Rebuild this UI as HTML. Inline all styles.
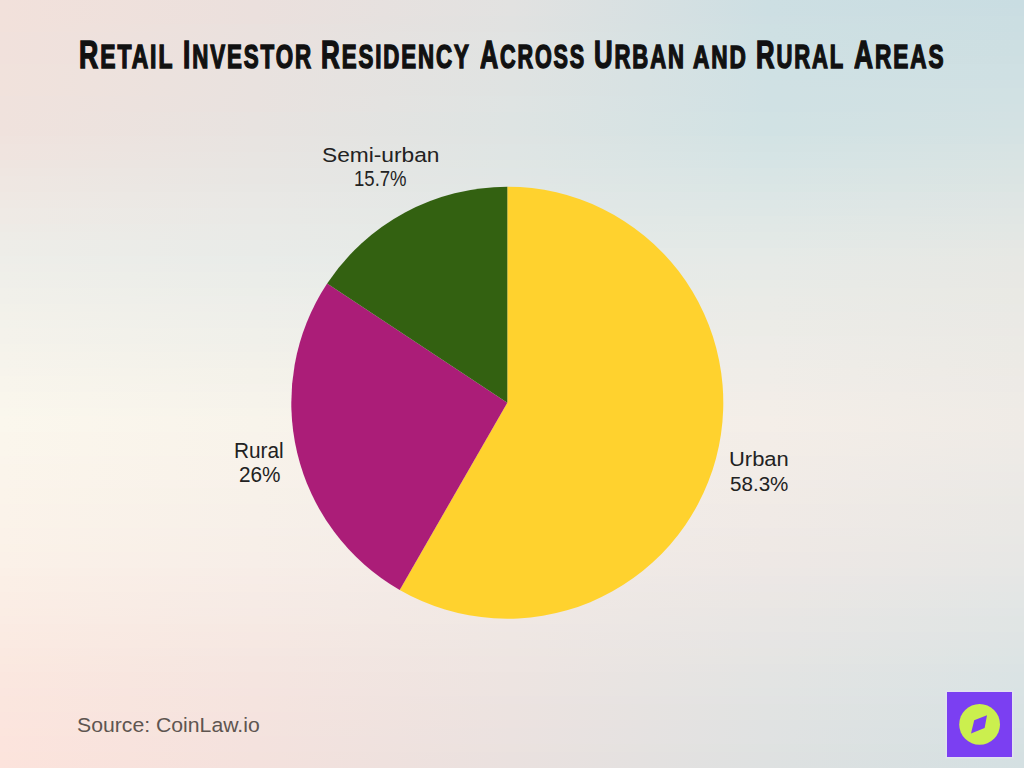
<!DOCTYPE html>
<html><head><meta charset="utf-8">
<style>
html,body{margin:0;padding:0;}
body{width:1024px;height:768px;overflow:hidden;position:relative;font-family:"Liberation Sans",sans-serif;background:#ECE4E0;}
#bg{position:absolute;left:0;top:0;width:1024px;height:768px;}
</style></head>
<body>
<svg id="bg" width="1024" height="768" viewBox="0 0 1024 768">
<defs>
<linearGradient id="b0" x1="0" x2="1" y1="0" y2="0"><stop offset="0.000" stop-color="#f2e1db"/><stop offset="0.250" stop-color="#ebe0dd"/><stop offset="0.500" stop-color="#e2e2e1"/><stop offset="0.750" stop-color="#cddfe3"/><stop offset="1.000" stop-color="#c9dde2"/></linearGradient>
<linearGradient id="b1" x1="0" x2="1" y1="0" y2="0"><stop offset="0.000" stop-color="#f2e1db"/><stop offset="0.250" stop-color="#ebe0dd"/><stop offset="0.500" stop-color="#e2e2e1"/><stop offset="0.750" stop-color="#cddfe3"/><stop offset="1.000" stop-color="#cadde2"/></linearGradient>
<linearGradient id="b2" x1="0" x2="1" y1="0" y2="0"><stop offset="0.000" stop-color="#f2e1db"/><stop offset="0.250" stop-color="#ebe0dd"/><stop offset="0.500" stop-color="#e1e2e1"/><stop offset="0.750" stop-color="#cedfe3"/><stop offset="1.000" stop-color="#cbdee2"/></linearGradient>
<linearGradient id="b3" x1="0" x2="1" y1="0" y2="0"><stop offset="0.000" stop-color="#f2e1db"/><stop offset="0.250" stop-color="#eae1de"/><stop offset="0.500" stop-color="#e1e2e1"/><stop offset="0.750" stop-color="#cee0e3"/><stop offset="1.000" stop-color="#cbdee2"/></linearGradient>
<linearGradient id="b4" x1="0" x2="1" y1="0" y2="0"><stop offset="0.000" stop-color="#f1e1dc"/><stop offset="0.250" stop-color="#eae1de"/><stop offset="0.500" stop-color="#e1e3e2"/><stop offset="0.750" stop-color="#cee0e3"/><stop offset="1.000" stop-color="#ccdee2"/></linearGradient>
<linearGradient id="b5" x1="0" x2="1" y1="0" y2="0"><stop offset="0.000" stop-color="#f1e1dc"/><stop offset="0.250" stop-color="#eae1de"/><stop offset="0.500" stop-color="#e1e3e2"/><stop offset="0.750" stop-color="#cee0e3"/><stop offset="1.000" stop-color="#cddfe2"/></linearGradient>
<linearGradient id="b6" x1="0" x2="1" y1="0" y2="0"><stop offset="0.000" stop-color="#f1e1dc"/><stop offset="0.250" stop-color="#eae1de"/><stop offset="0.500" stop-color="#e0e3e2"/><stop offset="0.750" stop-color="#cfe0e3"/><stop offset="1.000" stop-color="#cddfe2"/></linearGradient>
<linearGradient id="b7" x1="0" x2="1" y1="0" y2="0"><stop offset="0.000" stop-color="#f1e1dc"/><stop offset="0.250" stop-color="#eae1de"/><stop offset="0.500" stop-color="#e0e3e2"/><stop offset="0.750" stop-color="#cfe0e3"/><stop offset="1.000" stop-color="#cedfe2"/></linearGradient>
<linearGradient id="b8" x1="0" x2="1" y1="0" y2="0"><stop offset="0.000" stop-color="#f1e2dc"/><stop offset="0.250" stop-color="#e9e2df"/><stop offset="0.500" stop-color="#e0e3e2"/><stop offset="0.750" stop-color="#cfe1e4"/><stop offset="1.000" stop-color="#cfe0e3"/></linearGradient>
<linearGradient id="b9" x1="0" x2="1" y1="0" y2="0"><stop offset="0.000" stop-color="#f1e2dc"/><stop offset="0.250" stop-color="#e9e2df"/><stop offset="0.500" stop-color="#e0e3e2"/><stop offset="0.750" stop-color="#cfe1e4"/><stop offset="1.000" stop-color="#cfe0e3"/></linearGradient>
<linearGradient id="b10" x1="0" x2="1" y1="0" y2="0"><stop offset="0.000" stop-color="#f1e2dc"/><stop offset="0.250" stop-color="#e9e2df"/><stop offset="0.500" stop-color="#dfe3e2"/><stop offset="0.750" stop-color="#d0e1e4"/><stop offset="1.000" stop-color="#d0e0e3"/></linearGradient>
<linearGradient id="b11" x1="0" x2="1" y1="0" y2="0"><stop offset="0.000" stop-color="#f1e2dc"/><stop offset="0.250" stop-color="#e9e2df"/><stop offset="0.500" stop-color="#dfe3e2"/><stop offset="0.750" stop-color="#d0e1e4"/><stop offset="1.000" stop-color="#d1e1e3"/></linearGradient>
<linearGradient id="b12" x1="0" x2="1" y1="0" y2="0"><stop offset="0.000" stop-color="#f0e2dd"/><stop offset="0.250" stop-color="#e9e2df"/><stop offset="0.500" stop-color="#dfe4e3"/><stop offset="0.750" stop-color="#d0e1e4"/><stop offset="1.000" stop-color="#d1e1e3"/></linearGradient>
<linearGradient id="b13" x1="0" x2="1" y1="0" y2="0"><stop offset="0.000" stop-color="#f0e2dd"/><stop offset="0.250" stop-color="#e9e2df"/><stop offset="0.500" stop-color="#dfe4e3"/><stop offset="0.750" stop-color="#d0e1e4"/><stop offset="1.000" stop-color="#d2e1e3"/></linearGradient>
<linearGradient id="b14" x1="0" x2="1" y1="0" y2="0"><stop offset="0.000" stop-color="#f0e2dd"/><stop offset="0.250" stop-color="#e8e3e0"/><stop offset="0.500" stop-color="#dee4e3"/><stop offset="0.750" stop-color="#d1e2e4"/><stop offset="1.000" stop-color="#d3e1e3"/></linearGradient>
<linearGradient id="b15" x1="0" x2="1" y1="0" y2="0"><stop offset="0.000" stop-color="#f0e2dd"/><stop offset="0.250" stop-color="#e8e3e0"/><stop offset="0.500" stop-color="#dee4e3"/><stop offset="0.750" stop-color="#d1e2e4"/><stop offset="1.000" stop-color="#d3e2e3"/></linearGradient>
<linearGradient id="b16" x1="0" x2="1" y1="0" y2="0"><stop offset="0.000" stop-color="#f0e2dd"/><stop offset="0.250" stop-color="#e8e3e0"/><stop offset="0.500" stop-color="#dee4e3"/><stop offset="0.750" stop-color="#d1e2e4"/><stop offset="1.000" stop-color="#d4e2e3"/></linearGradient>
<linearGradient id="b17" x1="0" x2="1" y1="0" y2="0"><stop offset="0.000" stop-color="#f0e3de"/><stop offset="0.250" stop-color="#e8e4e1"/><stop offset="0.500" stop-color="#dfe4e3"/><stop offset="0.750" stop-color="#d3e3e4"/><stop offset="1.000" stop-color="#d5e2e3"/></linearGradient>
<linearGradient id="b18" x1="0" x2="1" y1="0" y2="0"><stop offset="0.000" stop-color="#f0e4df"/><stop offset="0.250" stop-color="#e8e4e1"/><stop offset="0.500" stop-color="#dfe5e4"/><stop offset="0.750" stop-color="#d4e3e4"/><stop offset="1.000" stop-color="#d7e3e3"/></linearGradient>
<linearGradient id="b19" x1="0" x2="1" y1="0" y2="0"><stop offset="0.000" stop-color="#f0e4df"/><stop offset="0.250" stop-color="#e8e5e2"/><stop offset="0.500" stop-color="#dfe5e4"/><stop offset="0.750" stop-color="#d5e4e5"/><stop offset="1.000" stop-color="#d8e3e3"/></linearGradient>
<linearGradient id="b20" x1="0" x2="1" y1="0" y2="0"><stop offset="0.000" stop-color="#efe5e0"/><stop offset="0.250" stop-color="#e8e5e2"/><stop offset="0.500" stop-color="#e0e6e4"/><stop offset="0.750" stop-color="#d6e4e5"/><stop offset="1.000" stop-color="#d9e4e3"/></linearGradient>
<linearGradient id="b21" x1="0" x2="1" y1="0" y2="0"><stop offset="0.000" stop-color="#efe6e1"/><stop offset="0.250" stop-color="#e8e6e3"/><stop offset="0.500" stop-color="#e0e6e5"/><stop offset="0.750" stop-color="#d8e5e5"/><stop offset="1.000" stop-color="#dae4e3"/></linearGradient>
<linearGradient id="b22" x1="0" x2="1" y1="0" y2="0"><stop offset="0.000" stop-color="#efe7e2"/><stop offset="0.250" stop-color="#e8e6e3"/><stop offset="0.500" stop-color="#e1e6e5"/><stop offset="0.750" stop-color="#d9e5e5"/><stop offset="1.000" stop-color="#dbe4e3"/></linearGradient>
<linearGradient id="b23" x1="0" x2="1" y1="0" y2="0"><stop offset="0.000" stop-color="#efe7e2"/><stop offset="0.250" stop-color="#e8e7e4"/><stop offset="0.500" stop-color="#e1e7e5"/><stop offset="0.750" stop-color="#dae6e5"/><stop offset="1.000" stop-color="#dce5e3"/></linearGradient>
<linearGradient id="b24" x1="0" x2="1" y1="0" y2="0"><stop offset="0.000" stop-color="#efe8e3"/><stop offset="0.250" stop-color="#e9e8e5"/><stop offset="0.500" stop-color="#e2e7e6"/><stop offset="0.750" stop-color="#dce6e6"/><stop offset="1.000" stop-color="#dee5e4"/></linearGradient>
<linearGradient id="b25" x1="0" x2="1" y1="0" y2="0"><stop offset="0.000" stop-color="#efe9e4"/><stop offset="0.250" stop-color="#e9e8e5"/><stop offset="0.500" stop-color="#e2e7e6"/><stop offset="0.750" stop-color="#dde7e6"/><stop offset="1.000" stop-color="#dfe5e4"/></linearGradient>
<linearGradient id="b26" x1="0" x2="1" y1="0" y2="0"><stop offset="0.000" stop-color="#efeae5"/><stop offset="0.250" stop-color="#e9e9e6"/><stop offset="0.500" stop-color="#e2e8e6"/><stop offset="0.750" stop-color="#dee7e6"/><stop offset="1.000" stop-color="#e0e6e4"/></linearGradient>
<linearGradient id="b27" x1="0" x2="1" y1="0" y2="0"><stop offset="0.000" stop-color="#efeae5"/><stop offset="0.250" stop-color="#e9e9e6"/><stop offset="0.500" stop-color="#e3e8e6"/><stop offset="0.750" stop-color="#e0e8e6"/><stop offset="1.000" stop-color="#e1e6e4"/></linearGradient>
<linearGradient id="b28" x1="0" x2="1" y1="0" y2="0"><stop offset="0.000" stop-color="#eeebe6"/><stop offset="0.250" stop-color="#e9eae7"/><stop offset="0.500" stop-color="#e3e9e7"/><stop offset="0.750" stop-color="#e1e8e6"/><stop offset="1.000" stop-color="#e2e7e4"/></linearGradient>
<linearGradient id="b29" x1="0" x2="1" y1="0" y2="0"><stop offset="0.000" stop-color="#eeece7"/><stop offset="0.250" stop-color="#e9eae7"/><stop offset="0.500" stop-color="#e4e9e7"/><stop offset="0.750" stop-color="#e2e9e6"/><stop offset="1.000" stop-color="#e3e7e4"/></linearGradient>
<linearGradient id="b30" x1="0" x2="1" y1="0" y2="0"><stop offset="0.000" stop-color="#eeede8"/><stop offset="0.250" stop-color="#e9ebe8"/><stop offset="0.500" stop-color="#e4e9e7"/><stop offset="0.750" stop-color="#e3e9e7"/><stop offset="1.000" stop-color="#e5e7e4"/></linearGradient>
<linearGradient id="b31" x1="0" x2="1" y1="0" y2="0"><stop offset="0.000" stop-color="#eeede8"/><stop offset="0.250" stop-color="#e9ebe8"/><stop offset="0.500" stop-color="#e5eae8"/><stop offset="0.750" stop-color="#e5eae7"/><stop offset="1.000" stop-color="#e6e8e4"/></linearGradient>
<linearGradient id="b32" x1="0" x2="1" y1="0" y2="0"><stop offset="0.000" stop-color="#eeeee9"/><stop offset="0.250" stop-color="#e9ece9"/><stop offset="0.500" stop-color="#e5eae8"/><stop offset="0.750" stop-color="#e6eae7"/><stop offset="1.000" stop-color="#e7e8e4"/></linearGradient>
<linearGradient id="b33" x1="0" x2="1" y1="0" y2="0"><stop offset="0.000" stop-color="#efeee9"/><stop offset="0.250" stop-color="#eaece9"/><stop offset="0.500" stop-color="#e6eae8"/><stop offset="0.750" stop-color="#e7eae7"/><stop offset="1.000" stop-color="#e7e8e4"/></linearGradient>
<linearGradient id="b34" x1="0" x2="1" y1="0" y2="0"><stop offset="0.000" stop-color="#efefe9"/><stop offset="0.250" stop-color="#ebede9"/><stop offset="0.500" stop-color="#e6ebe8"/><stop offset="0.750" stop-color="#e7eae7"/><stop offset="1.000" stop-color="#e8e8e4"/></linearGradient>
<linearGradient id="b35" x1="0" x2="1" y1="0" y2="0"><stop offset="0.000" stop-color="#f0efea"/><stop offset="0.250" stop-color="#ebede9"/><stop offset="0.500" stop-color="#e7ebe8"/><stop offset="0.750" stop-color="#e8ebe7"/><stop offset="1.000" stop-color="#e8e8e4"/></linearGradient>
<linearGradient id="b36" x1="0" x2="1" y1="0" y2="0"><stop offset="0.000" stop-color="#f1f0ea"/><stop offset="0.250" stop-color="#eceee9"/><stop offset="0.500" stop-color="#e8ebe8"/><stop offset="0.750" stop-color="#e9ebe7"/><stop offset="1.000" stop-color="#e9e9e4"/></linearGradient>
<linearGradient id="b37" x1="0" x2="1" y1="0" y2="0"><stop offset="0.000" stop-color="#f1f0ea"/><stop offset="0.250" stop-color="#edeeea"/><stop offset="0.500" stop-color="#e9ece8"/><stop offset="0.750" stop-color="#eaebe7"/><stop offset="1.000" stop-color="#e9e9e4"/></linearGradient>
<linearGradient id="b38" x1="0" x2="1" y1="0" y2="0"><stop offset="0.000" stop-color="#f2f1ea"/><stop offset="0.250" stop-color="#eeeeea"/><stop offset="0.500" stop-color="#eaece9"/><stop offset="0.750" stop-color="#eaebe7"/><stop offset="1.000" stop-color="#e9e9e5"/></linearGradient>
<linearGradient id="b39" x1="0" x2="1" y1="0" y2="0"><stop offset="0.000" stop-color="#f3f1ea"/><stop offset="0.250" stop-color="#eeefea"/><stop offset="0.500" stop-color="#eaece9"/><stop offset="0.750" stop-color="#ebebe7"/><stop offset="1.000" stop-color="#eae9e5"/></linearGradient>
<linearGradient id="b40" x1="0" x2="1" y1="0" y2="0"><stop offset="0.000" stop-color="#f3f2eb"/><stop offset="0.250" stop-color="#efefea"/><stop offset="0.500" stop-color="#ebece9"/><stop offset="0.750" stop-color="#ecece7"/><stop offset="1.000" stop-color="#eae9e5"/></linearGradient>
<linearGradient id="b41" x1="0" x2="1" y1="0" y2="0"><stop offset="0.000" stop-color="#f4f2eb"/><stop offset="0.250" stop-color="#f0f0ea"/><stop offset="0.500" stop-color="#ecede9"/><stop offset="0.750" stop-color="#ecece7"/><stop offset="1.000" stop-color="#ebe9e5"/></linearGradient>
<linearGradient id="b42" x1="0" x2="1" y1="0" y2="0"><stop offset="0.000" stop-color="#f4f2eb"/><stop offset="0.250" stop-color="#f0f0ea"/><stop offset="0.500" stop-color="#ecede9"/><stop offset="0.750" stop-color="#edece8"/><stop offset="1.000" stop-color="#ebeae5"/></linearGradient>
<linearGradient id="b43" x1="0" x2="1" y1="0" y2="0"><stop offset="0.000" stop-color="#f5f3eb"/><stop offset="0.250" stop-color="#f1f0ea"/><stop offset="0.500" stop-color="#edede9"/><stop offset="0.750" stop-color="#eeece8"/><stop offset="1.000" stop-color="#ebeae5"/></linearGradient>
<linearGradient id="b44" x1="0" x2="1" y1="0" y2="0"><stop offset="0.000" stop-color="#f6f3eb"/><stop offset="0.250" stop-color="#f2f1ea"/><stop offset="0.500" stop-color="#eeeee9"/><stop offset="0.750" stop-color="#eeece8"/><stop offset="1.000" stop-color="#eceae5"/></linearGradient>
<linearGradient id="b45" x1="0" x2="1" y1="0" y2="0"><stop offset="0.000" stop-color="#f6f4ec"/><stop offset="0.250" stop-color="#f3f1ea"/><stop offset="0.500" stop-color="#efeee9"/><stop offset="0.750" stop-color="#efede8"/><stop offset="1.000" stop-color="#eceae5"/></linearGradient>
<linearGradient id="b46" x1="0" x2="1" y1="0" y2="0"><stop offset="0.000" stop-color="#f7f4ec"/><stop offset="0.250" stop-color="#f4f2ea"/><stop offset="0.500" stop-color="#f0eee9"/><stop offset="0.750" stop-color="#f0ede8"/><stop offset="1.000" stop-color="#edeae5"/></linearGradient>
<linearGradient id="b47" x1="0" x2="1" y1="0" y2="0"><stop offset="0.000" stop-color="#f8f5ec"/><stop offset="0.250" stop-color="#f4f2ea"/><stop offset="0.500" stop-color="#f0eeea"/><stop offset="0.750" stop-color="#f0ede8"/><stop offset="1.000" stop-color="#edeae6"/></linearGradient>
<linearGradient id="b48" x1="0" x2="1" y1="0" y2="0"><stop offset="0.000" stop-color="#f8f5ec"/><stop offset="0.250" stop-color="#f5f2eb"/><stop offset="0.500" stop-color="#f1efea"/><stop offset="0.750" stop-color="#f1ede8"/><stop offset="1.000" stop-color="#edeae6"/></linearGradient>
<linearGradient id="b49" x1="0" x2="1" y1="0" y2="0"><stop offset="0.000" stop-color="#f9f6ec"/><stop offset="0.250" stop-color="#f6f3eb"/><stop offset="0.500" stop-color="#f2efea"/><stop offset="0.750" stop-color="#f2ede8"/><stop offset="1.000" stop-color="#eeebe6"/></linearGradient>
<linearGradient id="b50" x1="0" x2="1" y1="0" y2="0"><stop offset="0.000" stop-color="#faf6ed"/><stop offset="0.250" stop-color="#f6f3eb"/><stop offset="0.500" stop-color="#f2efea"/><stop offset="0.750" stop-color="#f3eee8"/><stop offset="1.000" stop-color="#eeebe6"/></linearGradient>
<linearGradient id="b51" x1="0" x2="1" y1="0" y2="0"><stop offset="0.000" stop-color="#faf7ed"/><stop offset="0.250" stop-color="#f7f4eb"/><stop offset="0.500" stop-color="#f3f0ea"/><stop offset="0.750" stop-color="#f3eee8"/><stop offset="1.000" stop-color="#efebe6"/></linearGradient>
<linearGradient id="b52" x1="0" x2="1" y1="0" y2="0"><stop offset="0.000" stop-color="#fbf7ed"/><stop offset="0.250" stop-color="#f8f4eb"/><stop offset="0.500" stop-color="#f4f0ea"/><stop offset="0.750" stop-color="#f4eee8"/><stop offset="1.000" stop-color="#efebe6"/></linearGradient>
<linearGradient id="b53" x1="0" x2="1" y1="0" y2="0"><stop offset="0.000" stop-color="#fbf7ed"/><stop offset="0.250" stop-color="#f8f4eb"/><stop offset="0.500" stop-color="#f4f0ea"/><stop offset="0.750" stop-color="#f4eee8"/><stop offset="1.000" stop-color="#efebe6"/></linearGradient>
<linearGradient id="b54" x1="0" x2="1" y1="0" y2="0"><stop offset="0.000" stop-color="#fbf6ec"/><stop offset="0.250" stop-color="#f8f3eb"/><stop offset="0.500" stop-color="#f4efea"/><stop offset="0.750" stop-color="#f3ede8"/><stop offset="1.000" stop-color="#eeebe6"/></linearGradient>
<linearGradient id="b55" x1="0" x2="1" y1="0" y2="0"><stop offset="0.000" stop-color="#fbf6ec"/><stop offset="0.250" stop-color="#f8f3ea"/><stop offset="0.500" stop-color="#f4efe9"/><stop offset="0.750" stop-color="#f3ede7"/><stop offset="1.000" stop-color="#eeeae6"/></linearGradient>
<linearGradient id="b56" x1="0" x2="1" y1="0" y2="0"><stop offset="0.000" stop-color="#fbf6ec"/><stop offset="0.250" stop-color="#f8f3ea"/><stop offset="0.500" stop-color="#f4efe9"/><stop offset="0.750" stop-color="#f3ede7"/><stop offset="1.000" stop-color="#edeae6"/></linearGradient>
<linearGradient id="b57" x1="0" x2="1" y1="0" y2="0"><stop offset="0.000" stop-color="#fbf5ec"/><stop offset="0.250" stop-color="#f8f2ea"/><stop offset="0.500" stop-color="#f3efe9"/><stop offset="0.750" stop-color="#f2ece7"/><stop offset="1.000" stop-color="#edeae6"/></linearGradient>
<linearGradient id="b58" x1="0" x2="1" y1="0" y2="0"><stop offset="0.000" stop-color="#fbf5eb"/><stop offset="0.250" stop-color="#f8f2ea"/><stop offset="0.500" stop-color="#f3eee9"/><stop offset="0.750" stop-color="#f2ece7"/><stop offset="1.000" stop-color="#eceae6"/></linearGradient>
<linearGradient id="b59" x1="0" x2="1" y1="0" y2="0"><stop offset="0.000" stop-color="#fbf5eb"/><stop offset="0.250" stop-color="#f8f2ea"/><stop offset="0.500" stop-color="#f3eee9"/><stop offset="0.750" stop-color="#f2ece7"/><stop offset="1.000" stop-color="#ece9e6"/></linearGradient>
<linearGradient id="b60" x1="0" x2="1" y1="0" y2="0"><stop offset="0.000" stop-color="#fbf4eb"/><stop offset="0.250" stop-color="#f8f1ea"/><stop offset="0.500" stop-color="#f3eee9"/><stop offset="0.750" stop-color="#f1ebe7"/><stop offset="1.000" stop-color="#ebe9e6"/></linearGradient>
<linearGradient id="b61" x1="0" x2="1" y1="0" y2="0"><stop offset="0.000" stop-color="#fbf4ea"/><stop offset="0.250" stop-color="#f7f1e9"/><stop offset="0.500" stop-color="#f3ede8"/><stop offset="0.750" stop-color="#f1ebe6"/><stop offset="1.000" stop-color="#ebe9e5"/></linearGradient>
<linearGradient id="b62" x1="0" x2="1" y1="0" y2="0"><stop offset="0.000" stop-color="#fbf4ea"/><stop offset="0.250" stop-color="#f7f1e9"/><stop offset="0.500" stop-color="#f3ede8"/><stop offset="0.750" stop-color="#f1ebe6"/><stop offset="1.000" stop-color="#eae9e5"/></linearGradient>
<linearGradient id="b63" x1="0" x2="1" y1="0" y2="0"><stop offset="0.000" stop-color="#fbf3ea"/><stop offset="0.250" stop-color="#f7f0e9"/><stop offset="0.500" stop-color="#f3ede8"/><stop offset="0.750" stop-color="#f0eae6"/><stop offset="1.000" stop-color="#eae8e5"/></linearGradient>
<linearGradient id="b64" x1="0" x2="1" y1="0" y2="0"><stop offset="0.000" stop-color="#fbf3ea"/><stop offset="0.250" stop-color="#f7f0e9"/><stop offset="0.500" stop-color="#f3ede8"/><stop offset="0.750" stop-color="#f0eae6"/><stop offset="1.000" stop-color="#eae8e5"/></linearGradient>
<linearGradient id="b65" x1="0" x2="1" y1="0" y2="0"><stop offset="0.000" stop-color="#fbf3e9"/><stop offset="0.250" stop-color="#f7f0e9"/><stop offset="0.500" stop-color="#f3ece8"/><stop offset="0.750" stop-color="#f0eae6"/><stop offset="1.000" stop-color="#e9e8e5"/></linearGradient>
<linearGradient id="b66" x1="0" x2="1" y1="0" y2="0"><stop offset="0.000" stop-color="#fbf2e9"/><stop offset="0.250" stop-color="#f7efe9"/><stop offset="0.500" stop-color="#f2ece8"/><stop offset="0.750" stop-color="#efe9e6"/><stop offset="1.000" stop-color="#e9e8e5"/></linearGradient>
<linearGradient id="b67" x1="0" x2="1" y1="0" y2="0"><stop offset="0.000" stop-color="#fbf2e9"/><stop offset="0.250" stop-color="#f7efe8"/><stop offset="0.500" stop-color="#f2ece7"/><stop offset="0.750" stop-color="#efe9e5"/><stop offset="1.000" stop-color="#e8e8e5"/></linearGradient>
<linearGradient id="b68" x1="0" x2="1" y1="0" y2="0"><stop offset="0.000" stop-color="#fbf2e8"/><stop offset="0.250" stop-color="#f7efe8"/><stop offset="0.500" stop-color="#f2ebe7"/><stop offset="0.750" stop-color="#efe9e5"/><stop offset="1.000" stop-color="#e8e7e5"/></linearGradient>
<linearGradient id="b69" x1="0" x2="1" y1="0" y2="0"><stop offset="0.000" stop-color="#fbf1e8"/><stop offset="0.250" stop-color="#f7eee8"/><stop offset="0.500" stop-color="#f2ebe7"/><stop offset="0.750" stop-color="#eee8e5"/><stop offset="1.000" stop-color="#e7e7e5"/></linearGradient>
<linearGradient id="b70" x1="0" x2="1" y1="0" y2="0"><stop offset="0.000" stop-color="#fbf1e8"/><stop offset="0.250" stop-color="#f7eee8"/><stop offset="0.500" stop-color="#f2ebe7"/><stop offset="0.750" stop-color="#eee8e5"/><stop offset="1.000" stop-color="#e7e7e5"/></linearGradient>
<linearGradient id="b71" x1="0" x2="1" y1="0" y2="0"><stop offset="0.000" stop-color="#fbf0e7"/><stop offset="0.250" stop-color="#f7ede7"/><stop offset="0.500" stop-color="#f2eae6"/><stop offset="0.750" stop-color="#ede8e5"/><stop offset="1.000" stop-color="#e6e7e5"/></linearGradient>
<linearGradient id="b72" x1="0" x2="1" y1="0" y2="0"><stop offset="0.000" stop-color="#fbefe6"/><stop offset="0.250" stop-color="#f7ece7"/><stop offset="0.500" stop-color="#f1eae6"/><stop offset="0.750" stop-color="#ece7e5"/><stop offset="1.000" stop-color="#e5e6e5"/></linearGradient>
<linearGradient id="b73" x1="0" x2="1" y1="0" y2="0"><stop offset="0.000" stop-color="#fbefe6"/><stop offset="0.250" stop-color="#f7ece6"/><stop offset="0.500" stop-color="#f1e9e6"/><stop offset="0.750" stop-color="#ebe7e5"/><stop offset="1.000" stop-color="#e4e6e5"/></linearGradient>
<linearGradient id="b74" x1="0" x2="1" y1="0" y2="0"><stop offset="0.000" stop-color="#fbeee5"/><stop offset="0.250" stop-color="#f6ebe6"/><stop offset="0.500" stop-color="#f0e9e5"/><stop offset="0.750" stop-color="#ebe7e4"/><stop offset="1.000" stop-color="#e3e6e5"/></linearGradient>
<linearGradient id="b75" x1="0" x2="1" y1="0" y2="0"><stop offset="0.000" stop-color="#fbede5"/><stop offset="0.250" stop-color="#f6ebe5"/><stop offset="0.500" stop-color="#f0e8e5"/><stop offset="0.750" stop-color="#eae7e4"/><stop offset="1.000" stop-color="#e2e6e5"/></linearGradient>
<linearGradient id="b76" x1="0" x2="1" y1="0" y2="0"><stop offset="0.000" stop-color="#fbede4"/><stop offset="0.250" stop-color="#f6eae5"/><stop offset="0.500" stop-color="#f0e8e4"/><stop offset="0.750" stop-color="#e9e6e4"/><stop offset="1.000" stop-color="#e1e5e5"/></linearGradient>
<linearGradient id="b77" x1="0" x2="1" y1="0" y2="0"><stop offset="0.000" stop-color="#fbece4"/><stop offset="0.250" stop-color="#f6eae4"/><stop offset="0.500" stop-color="#f0e8e4"/><stop offset="0.750" stop-color="#e8e6e4"/><stop offset="1.000" stop-color="#e0e5e4"/></linearGradient>
<linearGradient id="b78" x1="0" x2="1" y1="0" y2="0"><stop offset="0.000" stop-color="#fbebe3"/><stop offset="0.250" stop-color="#f6e9e3"/><stop offset="0.500" stop-color="#efe7e4"/><stop offset="0.750" stop-color="#e8e6e4"/><stop offset="1.000" stop-color="#e0e5e4"/></linearGradient>
<linearGradient id="b79" x1="0" x2="1" y1="0" y2="0"><stop offset="0.000" stop-color="#fbebe2"/><stop offset="0.250" stop-color="#f6e8e3"/><stop offset="0.500" stop-color="#efe7e3"/><stop offset="0.750" stop-color="#e7e5e4"/><stop offset="1.000" stop-color="#dfe4e4"/></linearGradient>
<linearGradient id="b80" x1="0" x2="1" y1="0" y2="0"><stop offset="0.000" stop-color="#fbeae2"/><stop offset="0.250" stop-color="#f6e8e2"/><stop offset="0.500" stop-color="#eee6e3"/><stop offset="0.750" stop-color="#e6e5e4"/><stop offset="1.000" stop-color="#dee4e4"/></linearGradient>
<linearGradient id="b81" x1="0" x2="1" y1="0" y2="0"><stop offset="0.000" stop-color="#fbe9e1"/><stop offset="0.250" stop-color="#f5e7e2"/><stop offset="0.500" stop-color="#eee6e2"/><stop offset="0.750" stop-color="#e6e5e3"/><stop offset="1.000" stop-color="#dde4e4"/></linearGradient>
<linearGradient id="b82" x1="0" x2="1" y1="0" y2="0"><stop offset="0.000" stop-color="#fbe9e0"/><stop offset="0.250" stop-color="#f5e6e1"/><stop offset="0.500" stop-color="#eee5e2"/><stop offset="0.750" stop-color="#e5e5e3"/><stop offset="1.000" stop-color="#dce4e4"/></linearGradient>
<linearGradient id="b83" x1="0" x2="1" y1="0" y2="0"><stop offset="0.000" stop-color="#fbe8e0"/><stop offset="0.250" stop-color="#f5e6e1"/><stop offset="0.500" stop-color="#eee5e2"/><stop offset="0.750" stop-color="#e4e4e3"/><stop offset="1.000" stop-color="#dbe3e4"/></linearGradient>
<linearGradient id="b84" x1="0" x2="1" y1="0" y2="0"><stop offset="0.000" stop-color="#fbe7df"/><stop offset="0.250" stop-color="#f5e5e0"/><stop offset="0.500" stop-color="#ede4e1"/><stop offset="0.750" stop-color="#e3e4e3"/><stop offset="1.000" stop-color="#dae3e4"/></linearGradient>
<linearGradient id="b85" x1="0" x2="1" y1="0" y2="0"><stop offset="0.000" stop-color="#fbe7df"/><stop offset="0.250" stop-color="#f5e5e0"/><stop offset="0.500" stop-color="#ede4e1"/><stop offset="0.750" stop-color="#e3e4e3"/><stop offset="1.000" stop-color="#dae3e4"/></linearGradient>
<linearGradient id="b86" x1="0" x2="1" y1="0" y2="0"><stop offset="0.000" stop-color="#fbe6df"/><stop offset="0.250" stop-color="#f5e4e0"/><stop offset="0.500" stop-color="#ede4e1"/><stop offset="0.750" stop-color="#e2e4e3"/><stop offset="1.000" stop-color="#d9e3e4"/></linearGradient>
<linearGradient id="b87" x1="0" x2="1" y1="0" y2="0"><stop offset="0.000" stop-color="#fbe6de"/><stop offset="0.250" stop-color="#f5e4df"/><stop offset="0.500" stop-color="#ece3e1"/><stop offset="0.750" stop-color="#e2e3e3"/><stop offset="1.000" stop-color="#d9e2e4"/></linearGradient>
<linearGradient id="b88" x1="0" x2="1" y1="0" y2="0"><stop offset="0.000" stop-color="#fbe6de"/><stop offset="0.250" stop-color="#f5e4df"/><stop offset="0.500" stop-color="#ece3e0"/><stop offset="0.750" stop-color="#e1e3e2"/><stop offset="1.000" stop-color="#d8e2e3"/></linearGradient>
<linearGradient id="b89" x1="0" x2="1" y1="0" y2="0"><stop offset="0.000" stop-color="#fbe5de"/><stop offset="0.250" stop-color="#f5e3df"/><stop offset="0.500" stop-color="#ece3e0"/><stop offset="0.750" stop-color="#e1e3e2"/><stop offset="1.000" stop-color="#d8e2e3"/></linearGradient>
<linearGradient id="b90" x1="0" x2="1" y1="0" y2="0"><stop offset="0.000" stop-color="#fce5de"/><stop offset="0.250" stop-color="#f4e3de"/><stop offset="0.500" stop-color="#ece2e0"/><stop offset="0.750" stop-color="#e0e2e2"/><stop offset="1.000" stop-color="#d7e2e3"/></linearGradient>
<linearGradient id="b91" x1="0" x2="1" y1="0" y2="0"><stop offset="0.000" stop-color="#fce5dd"/><stop offset="0.250" stop-color="#f4e3de"/><stop offset="0.500" stop-color="#ebe2e0"/><stop offset="0.750" stop-color="#e0e2e2"/><stop offset="1.000" stop-color="#d6e1e3"/></linearGradient>
<linearGradient id="b92" x1="0" x2="1" y1="0" y2="0"><stop offset="0.000" stop-color="#fce4dd"/><stop offset="0.250" stop-color="#f4e2de"/><stop offset="0.500" stop-color="#ebe2e0"/><stop offset="0.750" stop-color="#e0e2e2"/><stop offset="1.000" stop-color="#d6e1e3"/></linearGradient>
<linearGradient id="b93" x1="0" x2="1" y1="0" y2="0"><stop offset="0.000" stop-color="#fce4dd"/><stop offset="0.250" stop-color="#f4e2de"/><stop offset="0.500" stop-color="#ebe2df"/><stop offset="0.750" stop-color="#dfe2e1"/><stop offset="1.000" stop-color="#d5e1e2"/></linearGradient>
<linearGradient id="b94" x1="0" x2="1" y1="0" y2="0"><stop offset="0.000" stop-color="#fce4dc"/><stop offset="0.250" stop-color="#f4e2dd"/><stop offset="0.500" stop-color="#eae1df"/><stop offset="0.750" stop-color="#dfe1e1"/><stop offset="1.000" stop-color="#d5e0e2"/></linearGradient>
<linearGradient id="b95" x1="0" x2="1" y1="0" y2="0"><stop offset="0.000" stop-color="#fce3dc"/><stop offset="0.250" stop-color="#f4e1dd"/><stop offset="0.500" stop-color="#eae1df"/><stop offset="0.750" stop-color="#dee1e1"/><stop offset="1.000" stop-color="#d4e0e2"/></linearGradient>
</defs>
<rect x="0" y="0" width="1024" height="8" fill="url(#b0)"/>
<rect x="0" y="8" width="1024" height="8" fill="url(#b1)"/>
<rect x="0" y="16" width="1024" height="8" fill="url(#b2)"/>
<rect x="0" y="24" width="1024" height="8" fill="url(#b3)"/>
<rect x="0" y="32" width="1024" height="8" fill="url(#b4)"/>
<rect x="0" y="40" width="1024" height="8" fill="url(#b5)"/>
<rect x="0" y="48" width="1024" height="8" fill="url(#b6)"/>
<rect x="0" y="56" width="1024" height="8" fill="url(#b7)"/>
<rect x="0" y="64" width="1024" height="8" fill="url(#b8)"/>
<rect x="0" y="72" width="1024" height="8" fill="url(#b9)"/>
<rect x="0" y="80" width="1024" height="8" fill="url(#b10)"/>
<rect x="0" y="88" width="1024" height="8" fill="url(#b11)"/>
<rect x="0" y="96" width="1024" height="8" fill="url(#b12)"/>
<rect x="0" y="104" width="1024" height="8" fill="url(#b13)"/>
<rect x="0" y="112" width="1024" height="8" fill="url(#b14)"/>
<rect x="0" y="120" width="1024" height="8" fill="url(#b15)"/>
<rect x="0" y="128" width="1024" height="8" fill="url(#b16)"/>
<rect x="0" y="136" width="1024" height="8" fill="url(#b17)"/>
<rect x="0" y="144" width="1024" height="8" fill="url(#b18)"/>
<rect x="0" y="152" width="1024" height="8" fill="url(#b19)"/>
<rect x="0" y="160" width="1024" height="8" fill="url(#b20)"/>
<rect x="0" y="168" width="1024" height="8" fill="url(#b21)"/>
<rect x="0" y="176" width="1024" height="8" fill="url(#b22)"/>
<rect x="0" y="184" width="1024" height="8" fill="url(#b23)"/>
<rect x="0" y="192" width="1024" height="8" fill="url(#b24)"/>
<rect x="0" y="200" width="1024" height="8" fill="url(#b25)"/>
<rect x="0" y="208" width="1024" height="8" fill="url(#b26)"/>
<rect x="0" y="216" width="1024" height="8" fill="url(#b27)"/>
<rect x="0" y="224" width="1024" height="8" fill="url(#b28)"/>
<rect x="0" y="232" width="1024" height="8" fill="url(#b29)"/>
<rect x="0" y="240" width="1024" height="8" fill="url(#b30)"/>
<rect x="0" y="248" width="1024" height="8" fill="url(#b31)"/>
<rect x="0" y="256" width="1024" height="8" fill="url(#b32)"/>
<rect x="0" y="264" width="1024" height="8" fill="url(#b33)"/>
<rect x="0" y="272" width="1024" height="8" fill="url(#b34)"/>
<rect x="0" y="280" width="1024" height="8" fill="url(#b35)"/>
<rect x="0" y="288" width="1024" height="8" fill="url(#b36)"/>
<rect x="0" y="296" width="1024" height="8" fill="url(#b37)"/>
<rect x="0" y="304" width="1024" height="8" fill="url(#b38)"/>
<rect x="0" y="312" width="1024" height="8" fill="url(#b39)"/>
<rect x="0" y="320" width="1024" height="8" fill="url(#b40)"/>
<rect x="0" y="328" width="1024" height="8" fill="url(#b41)"/>
<rect x="0" y="336" width="1024" height="8" fill="url(#b42)"/>
<rect x="0" y="344" width="1024" height="8" fill="url(#b43)"/>
<rect x="0" y="352" width="1024" height="8" fill="url(#b44)"/>
<rect x="0" y="360" width="1024" height="8" fill="url(#b45)"/>
<rect x="0" y="368" width="1024" height="8" fill="url(#b46)"/>
<rect x="0" y="376" width="1024" height="8" fill="url(#b47)"/>
<rect x="0" y="384" width="1024" height="8" fill="url(#b48)"/>
<rect x="0" y="392" width="1024" height="8" fill="url(#b49)"/>
<rect x="0" y="400" width="1024" height="8" fill="url(#b50)"/>
<rect x="0" y="408" width="1024" height="8" fill="url(#b51)"/>
<rect x="0" y="416" width="1024" height="8" fill="url(#b52)"/>
<rect x="0" y="424" width="1024" height="8" fill="url(#b53)"/>
<rect x="0" y="432" width="1024" height="8" fill="url(#b54)"/>
<rect x="0" y="440" width="1024" height="8" fill="url(#b55)"/>
<rect x="0" y="448" width="1024" height="8" fill="url(#b56)"/>
<rect x="0" y="456" width="1024" height="8" fill="url(#b57)"/>
<rect x="0" y="464" width="1024" height="8" fill="url(#b58)"/>
<rect x="0" y="472" width="1024" height="8" fill="url(#b59)"/>
<rect x="0" y="480" width="1024" height="8" fill="url(#b60)"/>
<rect x="0" y="488" width="1024" height="8" fill="url(#b61)"/>
<rect x="0" y="496" width="1024" height="8" fill="url(#b62)"/>
<rect x="0" y="504" width="1024" height="8" fill="url(#b63)"/>
<rect x="0" y="512" width="1024" height="8" fill="url(#b64)"/>
<rect x="0" y="520" width="1024" height="8" fill="url(#b65)"/>
<rect x="0" y="528" width="1024" height="8" fill="url(#b66)"/>
<rect x="0" y="536" width="1024" height="8" fill="url(#b67)"/>
<rect x="0" y="544" width="1024" height="8" fill="url(#b68)"/>
<rect x="0" y="552" width="1024" height="8" fill="url(#b69)"/>
<rect x="0" y="560" width="1024" height="8" fill="url(#b70)"/>
<rect x="0" y="568" width="1024" height="8" fill="url(#b71)"/>
<rect x="0" y="576" width="1024" height="8" fill="url(#b72)"/>
<rect x="0" y="584" width="1024" height="8" fill="url(#b73)"/>
<rect x="0" y="592" width="1024" height="8" fill="url(#b74)"/>
<rect x="0" y="600" width="1024" height="8" fill="url(#b75)"/>
<rect x="0" y="608" width="1024" height="8" fill="url(#b76)"/>
<rect x="0" y="616" width="1024" height="8" fill="url(#b77)"/>
<rect x="0" y="624" width="1024" height="8" fill="url(#b78)"/>
<rect x="0" y="632" width="1024" height="8" fill="url(#b79)"/>
<rect x="0" y="640" width="1024" height="8" fill="url(#b80)"/>
<rect x="0" y="648" width="1024" height="8" fill="url(#b81)"/>
<rect x="0" y="656" width="1024" height="8" fill="url(#b82)"/>
<rect x="0" y="664" width="1024" height="8" fill="url(#b83)"/>
<rect x="0" y="672" width="1024" height="8" fill="url(#b84)"/>
<rect x="0" y="680" width="1024" height="8" fill="url(#b85)"/>
<rect x="0" y="688" width="1024" height="8" fill="url(#b86)"/>
<rect x="0" y="696" width="1024" height="8" fill="url(#b87)"/>
<rect x="0" y="704" width="1024" height="8" fill="url(#b88)"/>
<rect x="0" y="712" width="1024" height="8" fill="url(#b89)"/>
<rect x="0" y="720" width="1024" height="8" fill="url(#b90)"/>
<rect x="0" y="728" width="1024" height="8" fill="url(#b91)"/>
<rect x="0" y="736" width="1024" height="8" fill="url(#b92)"/>
<rect x="0" y="744" width="1024" height="8" fill="url(#b93)"/>
<rect x="0" y="752" width="1024" height="8" fill="url(#b94)"/>
<rect x="0" y="760" width="1024" height="8" fill="url(#b95)"/>
<path d="M507.30 402.70 L507.30 186.70 A216 216 0 1 1 399.69 589.99 Z" fill="#FFD22E"/>
<path d="M507.30 402.70 L399.69 589.99 A216 216 0 0 1 327.14 283.54 Z" fill="#AB1D78"/>
<path d="M507.30 402.70 L327.14 283.54 A216 216 0 0 1 507.30 186.70 Z" fill="#336111"/>
<rect x="945.5" y="690.5" width="68" height="68" fill="#E4E0F2" opacity="0.8"/>
<rect x="947" y="692" width="65" height="65" fill="#7B3FF2"/>
<circle cx="979.6" cy="724.4" r="20.4" fill="#CBEF4E"/>
<path d="M987 715.2 L984.6 728 L971 733.5 L974.2 720.2 Z" fill="#7B3FF3"/>
</svg>

<div style="position:absolute;left:79.29px;top:36.29px;font-size:34.88px;line-height:1;font-weight:bold;color:#111;letter-spacing:3.00px;-webkit-text-stroke:1.60px #111;white-space:nowrap;transform-origin:0 0;transform:scale(0.6550,0.9317)"><span style="font-size:40.70px">R</span>ETAIL</div>
<div style="position:absolute;left:182.72px;top:36.29px;font-size:34.88px;line-height:1;font-weight:bold;color:#111;letter-spacing:3.00px;-webkit-text-stroke:1.60px #111;white-space:nowrap;transform-origin:0 0;transform:scale(0.6392,0.9317)"><span style="font-size:40.70px">I</span>NVESTOR</div>
<div style="position:absolute;left:321.12px;top:36.29px;font-size:34.88px;line-height:1;font-weight:bold;color:#111;letter-spacing:3.00px;-webkit-text-stroke:1.60px #111;white-space:nowrap;transform-origin:0 0;transform:scale(0.6387,0.9317)"><span style="font-size:40.70px">R</span>ESIDENCY</div>
<div style="position:absolute;left:479.60px;top:36.29px;font-size:34.88px;line-height:1;font-weight:bold;color:#111;letter-spacing:3.00px;-webkit-text-stroke:1.60px #111;white-space:nowrap;transform-origin:0 0;transform:scale(0.6190,0.9317)"><span style="font-size:40.70px">A</span>CROSS</div>
<div style="position:absolute;left:594.04px;top:36.29px;font-size:34.88px;line-height:1;font-weight:bold;color:#111;letter-spacing:3.00px;-webkit-text-stroke:1.60px #111;white-space:nowrap;transform-origin:0 0;transform:scale(0.6324,0.9317)"><span style="font-size:40.70px">U</span>RBAN</div>
<div style="position:absolute;left:693.30px;top:41.21px;font-size:34.88px;line-height:1;font-weight:bold;color:#111;letter-spacing:3.00px;-webkit-text-stroke:1.60px #111;white-space:nowrap;transform-origin:0 0;transform:scale(0.6494,0.9231)">AND</div>
<div style="position:absolute;left:755.54px;top:36.29px;font-size:34.88px;line-height:1;font-weight:bold;color:#111;letter-spacing:3.00px;-webkit-text-stroke:1.60px #111;white-space:nowrap;transform-origin:0 0;transform:scale(0.6309,0.9317)"><span style="font-size:40.70px">R</span>URAL</div>
<div style="position:absolute;left:854.30px;top:36.29px;font-size:34.88px;line-height:1;font-weight:bold;color:#111;letter-spacing:3.00px;-webkit-text-stroke:1.60px #111;white-space:nowrap;transform-origin:0 0;transform:scale(0.6478,0.9317)"><span style="font-size:40.70px">A</span>REAS</div>
<div style="position:absolute;left:321.84px;top:146.07px;font-size:21.51px;line-height:1;font-weight:normal;color:#222222;white-space:nowrap;transform-origin:0 0;transform:scale(1.0569,0.9250)">Semi-urban</div>
<div style="position:absolute;left:353.61px;top:168.64px;font-size:20.79px;line-height:1;font-weight:normal;color:#222222;white-space:nowrap;transform-origin:0 0;transform:scale(0.8929,1.0214)">15.7%</div>
<div style="position:absolute;left:234.36px;top:439.27px;font-size:22.67px;line-height:1;font-weight:normal;color:#222222;white-space:nowrap;transform-origin:0 0;transform:scale(0.9176,0.9750)">Rural</div>
<div style="position:absolute;left:238.85px;top:464.00px;font-size:21.80px;line-height:1;font-weight:normal;color:#222222;white-space:nowrap;transform-origin:0 0;transform:scale(0.9524,1.0000)">26%</div>
<div style="position:absolute;left:729.49px;top:448.93px;font-size:21.80px;line-height:1;font-weight:normal;color:#222222;white-space:nowrap;transform-origin:0 0;transform:scale(1.0071,0.9375)">Urban</div>
<div style="position:absolute;left:730.23px;top:473.18px;font-size:21.22px;line-height:1;font-weight:normal;color:#222222;white-space:nowrap;transform-origin:0 0;transform:scale(0.9707,0.9733)">58.3%</div>
<div style="position:absolute;left:76.61px;top:716.28px;font-size:21.37px;line-height:1;font-weight:normal;color:#5E5550;white-space:nowrap;transform-origin:0 0;transform:scale(0.9929,0.9187)">Source: CoinLaw.io</div>
</body></html>
